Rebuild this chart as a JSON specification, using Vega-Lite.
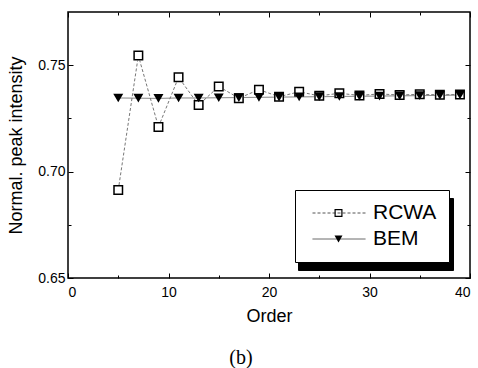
{
  "$schema": "https://vega.github.io/schema/vega-lite/v6.json",
  "autosize": "none",
  "width": 402,
  "height": 266,
  "padding": {"left": 68, "top": 12, "right": 8, "bottom": 90},
  "background": "white",
  "config": {
    "view": {"stroke": "black", "strokeWidth": 1.5},
    "font": "Liberation Sans",
    "axis": {"domain": false, "grid": false, "tickColor": "black", "tickWidth": 1, "labelColor": "black", "titleColor": "black", "labelFont": "Liberation Sans", "titleFont": "Liberation Sans", "labelFontSize": 14, "titleFontSize": 18, "titleFontWeight": "normal"}
  },
  "title": {"text": "(b)", "orient": "bottom", "anchor": "middle", "dx": -28, "offset": 23, "font": "Liberation Serif", "fontSize": 20, "fontWeight": "normal", "color": "black"},
  "data": {"values": [
    {"order": 5, "value": 0.6913, "method": "RCWA"},
    {"order": 7, "value": 0.7545, "method": "RCWA"},
    {"order": 9, "value": 0.7210, "method": "RCWA"},
    {"order": 11, "value": 0.7443, "method": "RCWA"},
    {"order": 13, "value": 0.7313, "method": "RCWA"},
    {"order": 15, "value": 0.7400, "method": "RCWA"},
    {"order": 17, "value": 0.7345, "method": "RCWA"},
    {"order": 19, "value": 0.7385, "method": "RCWA"},
    {"order": 21, "value": 0.7352, "method": "RCWA"},
    {"order": 23, "value": 0.7375, "method": "RCWA"},
    {"order": 25, "value": 0.7356, "method": "RCWA"},
    {"order": 27, "value": 0.7368, "method": "RCWA"},
    {"order": 29, "value": 0.7358, "method": "RCWA"},
    {"order": 31, "value": 0.7365, "method": "RCWA"},
    {"order": 33, "value": 0.7360, "method": "RCWA"},
    {"order": 35, "value": 0.7363, "method": "RCWA"},
    {"order": 37, "value": 0.7361, "method": "RCWA"},
    {"order": 39, "value": 0.7362, "method": "RCWA"},
    {"order": 5, "value": 0.7346, "method": "BEM"},
    {"order": 7, "value": 0.7345, "method": "BEM"},
    {"order": 9, "value": 0.7344, "method": "BEM"},
    {"order": 11, "value": 0.7346, "method": "BEM"},
    {"order": 13, "value": 0.7346, "method": "BEM"},
    {"order": 15, "value": 0.7347, "method": "BEM"},
    {"order": 17, "value": 0.7348, "method": "BEM"},
    {"order": 19, "value": 0.7349, "method": "BEM"},
    {"order": 21, "value": 0.7350, "method": "BEM"},
    {"order": 23, "value": 0.7351, "method": "BEM"},
    {"order": 25, "value": 0.7352, "method": "BEM"},
    {"order": 27, "value": 0.7353, "method": "BEM"},
    {"order": 29, "value": 0.7354, "method": "BEM"},
    {"order": 31, "value": 0.7355, "method": "BEM"},
    {"order": 33, "value": 0.7356, "method": "BEM"},
    {"order": 35, "value": 0.7357, "method": "BEM"},
    {"order": 37, "value": 0.7358, "method": "BEM"},
    {"order": 39, "value": 0.7360, "method": "BEM"}
  ]},
  "layer": [
    {
      "mark": {"type": "line", "color": "#777777", "strokeWidth": 1},
      "encoding": {
        "x": {"field": "order", "type": "quantitative", "scale": {"domain": [0, 40], "nice": false},
              "axis": {"orient": "bottom", "values": [0, 10, 20, 30, 40], "ticks": false, "labelPadding": 7, "title": "Order", "titlePadding": 8}},
        "y": {"field": "value", "type": "quantitative", "scale": {"domain": [0.65, 0.775], "nice": false, "zero": false},
              "axis": {"orient": "left", "values": [0.65, 0.70, 0.75], "format": ".2f", "ticks": false, "labelPadding": 3, "title": "Normal. peak intensity", "titlePadding": 12}},
        "strokeDash": {"field": "method", "type": "nominal",
              "scale": {"domain": ["RCWA", "BEM"], "range": [[3, 2], [1, 0]]},
              "legend": {"orient": "none", "legendX": 227, "legendY": 178, "title": null, "zindex": 1,
                         "symbolType": "stroke", "symbolSize": 2809, "symbolStrokeColor": "#555555", "symbolStrokeWidth": 1, "symbolOffset": 5,
                         "labelFontSize": 21, "labelFont": "Liberation Sans", "labelColor": "black", "labelOffset": 7,
                         "clipHeight": 22, "rowPadding": 4, "padding": 12,
                         "strokeColor": "black", "fillColor": "white"}}
      }
    },
    {
      "transform": [{"filter": "datum.method === 'RCWA'"}],
      "mark": {"type": "point", "shape": "square", "size": 100, "filled": true, "color": "white", "opacity": 1},
      "encoding": {
        "x": {"field": "order", "type": "quantitative",
              "axis": {"orient": "bottom", "values": [0, 10, 20, 30, 40], "offset": -5, "tickSize": 5, "labels": false, "title": null}},
        "y": {"field": "value", "type": "quantitative",
              "axis": {"orient": "left", "values": [0.65, 0.70, 0.75], "offset": -5, "tickSize": 5, "labels": false, "title": null}}
      }
    },
    {
      "mark": {"type": "point", "size": 100, "filled": true, "color": "black", "opacity": 1},
      "encoding": {
        "x": {"field": "order", "type": "quantitative",
              "axis": {"orient": "bottom", "values": [5, 15, 25, 35], "offset": -3, "tickSize": 3, "labels": false, "title": null}},
        "y": {"field": "value", "type": "quantitative",
              "axis": {"orient": "left", "values": [0.675, 0.725], "offset": -3, "tickSize": 3, "labels": false, "title": null}},
        "shape": {"field": "method", "type": "nominal", "sort": ["RCWA", "BEM"],
              "scale": {"range": ["M-1,-1L1,-1L1,1L-1,1Z M-0.7,-0.7L-0.7,0.7L0.7,0.7L0.7,-0.7Z", "triangle-down"]},
              "legend": {"orient": "none", "legendX": 227, "legendY": 178, "title": null, "zindex": 2,
                         "symbolSize": 64, "symbolFillColor": "black", "symbolStrokeWidth": 0, "symbolOffset": 21,
                         "labelFontSize": 21, "labelOpacity": 0, "labelOffset": 7,
                         "clipHeight": 22, "rowPadding": 4, "padding": 12}}
      }
    },
    {
      "mark": {"type": "point", "size": 1, "opacity": 0},
      "encoding": {
        "x": {"field": "order", "type": "quantitative",
              "axis": {"orient": "top", "values": [0, 10, 20, 30, 40], "offset": -5, "tickSize": 5, "labels": false, "title": null}},
        "y": {"field": "value", "type": "quantitative",
              "axis": {"orient": "right", "values": [0.65, 0.70, 0.75], "offset": -5, "tickSize": 5, "labels": false, "title": null}},
        "color": {"field": "method", "type": "nominal",
              "scale": {"domain": ["BEM", "RCWA"], "range": ["black", "black"]},
              "legend": {"orient": "none", "legendX": 230, "legendY": 186, "title": null, "zindex": 0,
                         "symbolType": "stroke", "symbolSize": 2809, "symbolOffset": 5, "symbolOpacity": 1, "symbolStrokeColor": "black",
                         "labelFontSize": 21, "labelFont": "Liberation Sans", "labelOpacity": 1, "labelColor": "black", "labelOffset": 7,
                         "clipHeight": 22, "rowPadding": 4, "padding": 12,
                         "strokeColor": "black", "fillColor": "black"}}
      }
    },
    {
      "mark": {"type": "point", "size": 1, "opacity": 0},
      "encoding": {
        "x": {"field": "order", "type": "quantitative",
              "axis": {"orient": "top", "values": [5, 15, 25, 35], "offset": -3, "tickSize": 3, "labels": false, "title": null}},
        "y": {"field": "value", "type": "quantitative",
              "axis": {"orient": "right", "values": [0.675, 0.725], "offset": -3, "tickSize": 3, "labels": false, "title": null}}
      }
    }
  ],
  "resolve": {"axis": {"x": "independent", "y": "independent"}}
}
